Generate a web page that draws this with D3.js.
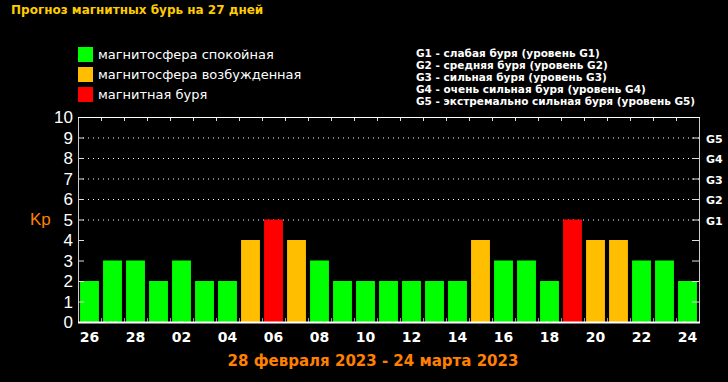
<!DOCTYPE html>
<html>
<head>
<meta charset="utf-8">
<script src="https://cdn.jsdelivr.net/npm/d3@7"></script>
<style>
  body { margin: 0; background: #000; }
  svg { display: block; }
</style>
</head>
<body>
<div id="chart"></div>
<script>
const width = 728;
const height = 382;

// Forecast data: one Kp value per day
const days = ["26", "27", "28", "01", "02", "03", "04", "05", "06", "07", "08", "09", "10", "11",
  "12", "13", "14", "15", "16", "17", "18", "19", "20", "21", "22", "23", "24"];
const kp = [2, 3, 3, 2, 3, 2, 2, 4, 5, 4, 3, 2, 2, 2, 2, 2, 2, 4, 3, 3, 2, 5, 4, 4, 3, 3, 2];
const kpTicks = [0, 1, 2, 3, 4, 5, 6, 7, 8, 9, 10];
const gLevels = ["G1", "G2", "G3", "G4", "G5"];
const gText = [
  "G1 - слабая буря (уровень G1)",
  "G2 - средняя буря (уровень G2)",
  "G3 - сильная буря (уровень G3)",
  "G4 - очень сильная буря (уровень G4)",
  "G5 - экстремально сильная буря (уровень G5)"
];
const legendLabels = ["магнитосфера спокойная", "магнитосфера возбужденная", "магнитная буря"];
const legendColors = ["#00ff00", "#ffbf00", "#ff0000"];

const margin = { left: 78, right: 699, top: 117, bottom: 322 };

const svg = d3.select("#chart")
  .append("svg")
  .attr("width", width)
  .attr("height", height)
  .style("background", "#000");

const x = d3.scaleBand()
  .domain(d3.range(days.length))
  .range([margin.left, margin.right])
  .paddingInner(0.18)
  .paddingOuter(0.09);

const slot = d3.scaleBand()
  .domain(d3.range(days.length))
  .range([margin.left, margin.right]);

const y = d3.scaleLinear().domain([0, 10]).range([margin.bottom, margin.top]);

const color = d3.scaleThreshold().domain([4, 5]).range(legendColors);

// title
svg.append("text")
  .attr("x", 11)
  .attr("y", 14)
  .attr("fill", "#ffcc00")
  .style("font", "bold 12px 'DejaVu Sans'")
  .text("Прогноз магнитных бурь на 27 дней");

// legend
legendLabels.forEach((d, i) => {
  svg.append("rect")
    .attr("x", 78).attr("y", 47 + i * 20)
    .attr("width", 15).attr("height", 15)
    .attr("fill", legendColors[i]);
  svg.append("text")
    .attr("x", 98).attr("y", 59 + i * 20)
    .attr("fill", "#fff")
    .style("font", "13px 'DejaVu Sans'")
    .text(d);
});

gText.forEach((d, i) => {
  svg.append("text")
    .attr("x", 416).attr("y", 57 + i * 12)
    .attr("fill", "#fff")
    .style("font", "bold 10.5px 'DejaVu Sans'")
    .text(d);
});

// dotted grid lines 5..9
svg.selectAll(".grid")
  .data([5, 6, 7, 8, 9])
  .enter()
  .append("line")
  .attr("x1", margin.left).attr("x2", margin.right)
  .attr("y1", (d) => y(d) + 0.5).attr("y2", (d) => y(d) + 0.5)
  .attr("stroke", "#fff")
  .attr("stroke-width", 1)
  .attr("stroke-dasharray", "1,4");

// bars
svg.selectAll(".bar")
  .data(kp)
  .enter()
  .append("rect")
  .attr("x", (d, i) => x(i))
  .attr("y", (d) => y(d))
  .attr("width", x.bandwidth())
  .attr("height", (d) => y(0) - y(d))
  .attr("fill", (d) => color(d));

// y ticks, both sides, inward
kpTicks.slice(1, 10).forEach((d) => {
  svg.append("line")
    .attr("x1", margin.left).attr("x2", margin.left + 6)
    .attr("y1", y(d) + 0.5).attr("y2", y(d) + 0.5)
    .attr("stroke", "#ddd");
  svg.append("line")
    .attr("x1", margin.right - 7).attr("x2", margin.right)
    .attr("y1", y(d) + 0.5).attr("y2", y(d) + 0.5)
    .attr("stroke", "#ddd");
});

// x ticks at slot boundaries, top and bottom
d3.range(1, days.length).forEach((i) => {
  const xx = Math.round(slot(i)) + 0.5;
  svg.append("line")
    .attr("x1", xx).attr("x2", xx)
    .attr("y1", margin.top).attr("y2", margin.top + 4)
    .attr("stroke", "#ddd");
  svg.append("line")
    .attr("x1", xx).attr("x2", xx)
    .attr("y1", margin.bottom - 4).attr("y2", margin.bottom)
    .attr("stroke", "#999");
});

// frame
svg.append("rect")
  .attr("x", margin.left + 0.5).attr("y", margin.top + 0.5)
  .attr("width", margin.right - margin.left)
  .attr("height", margin.bottom - margin.top)
  .attr("fill", "none")
  .attr("stroke", "#ccc");
svg.append("line")
  .attr("x1", margin.left).attr("x2", margin.right + 1)
  .attr("y1", margin.bottom + 0.5).attr("y2", margin.bottom + 0.5)
  .attr("stroke", "#fff").attr("stroke-width", 2);
svg.append("line")
  .attr("x1", margin.left).attr("x2", margin.right + 1)
  .attr("y1", margin.top + 0.5).attr("y2", margin.top + 0.5)
  .attr("stroke", "#fff");

// y labels
svg.selectAll(".ylab")
  .data(kpTicks)
  .enter()
  .append("text")
  .attr("x", 73)
  .attr("y", (d) => y(d) + 6)
  .attr("text-anchor", "end")
  .attr("fill", "#fff")
  .style("font", "17px 'Liberation Sans'")
  .text((d) => d);

svg.append("text")
  .attr("x", 30).attr("y", 225)
  .attr("fill", "#ff8000")
  .style("font", "17px 'Liberation Sans'")
  .text("Kp");

// G labels on right
gLevels.forEach((d, i) => {
  svg.append("text")
    .attr("x", 706)
    .attr("y", y(i + 5) + 5)
    .attr("fill", "#fff")
    .style("font", "bold 11px 'DejaVu Sans'")
    .text(d);
});

// x labels, every other day
svg.selectAll(".xlab")
  .data(days.filter((d, i) => i % 2 === 0))
  .enter()
  .append("text")
  .attr("x", (d, i) => x(i * 2) + x.bandwidth() / 2)
  .attr("y", 342)
  .attr("text-anchor", "middle")
  .attr("fill", "#fff")
  .style("font", "bold 14px 'DejaVu Sans'")
  .text((d) => d);

svg.append("text")
  .attr("x", 373).attr("y", 366)
  .attr("text-anchor", "middle")
  .attr("fill", "#ff8000")
  .style("font", "bold 15px 'DejaVu Sans'")
  .text("28 февраля 2023 - 24 марта 2023");
</script>
</body>
</html>
